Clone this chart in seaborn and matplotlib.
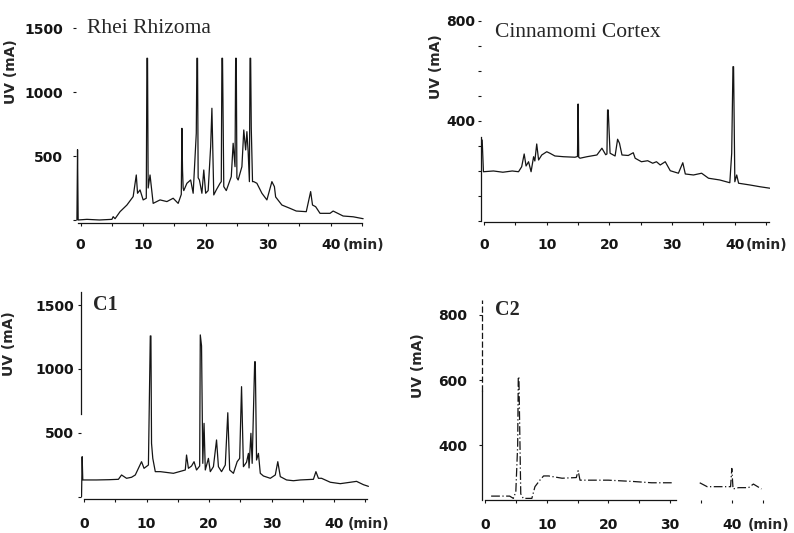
import numpy as np
import pandas as pd
import seaborn as sns
import matplotlib.pyplot as plt

# retention time (min) / UV response (mA)
rhei_min = [
    -0.6, -0.5, -0.4, 1.0, 3.0, 5.0, 5.2, 5.5, 6.3, 7.4,
    8.4, 8.9, 9.1, 9.5, 10.0, 10.5, 10.6, 10.7, 10.8, 11.1,
    11.6, 12.7, 13.8, 14.8, 15.6, 16.1, 16.2, 16.3, 16.4, 16.5,
    17.0, 17.6, 18.0, 18.5, 18.6, 18.7, 18.8, 19.0, 19.4, 19.7,
    20.0, 20.4, 20.8, 21.0, 21.3, 21.7, 22.3, 22.5, 22.6, 22.7,
    22.9, 23.3, 24.1, 24.4, 24.7, 24.8, 24.9, 25.0, 25.2, 25.8,
    26.1, 26.4, 26.6, 26.8, 27.0, 27.1, 27.2, 27.3, 27.5, 27.7,
    28.2, 29.0, 29.8, 30.6, 31.0, 31.2, 32.2, 33.5, 34.5, 36.1,
    36.8, 37.1, 37.6, 38.3, 39.9, 40.4, 42.0, 43.6, 45.2]
rhei_uv = [
    0, 550, 0, 5, 0, 5, 26, 10, 65, 117,
    183, 352, 209, 235, 157, 170, 1265, 1265, 250, 352,
    130, 157, 144, 170, 130, 200, 717, 391, 250, 230,
    287, 313, 209, 678, 1265, 1265, 330, 313, 209, 391,
    209, 230, 574, 874, 196, 235, 287, 300, 1265, 1265,
    261, 230, 339, 600, 417, 1265, 1265, 330, 313, 417,
    704, 548, 691, 535, 300, 1265, 1265, 717, 300, 300,
    287, 209, 157, 300, 261, 180, 117, 91, 70, 65,
    222, 117, 104, 52, 52, 70, 31, 25, 10]

cinn_min = [
    -0.3, -0.1, 1.5, 3.0, 4.5, 5.5, 6.0, 6.4, 6.7, 7.1,
    7.5, 7.9, 8.1, 8.4, 8.7, 9.2, 10.0, 10.5, 11.3, 12.7,
    14.5, 14.9, 15.0, 15.1, 15.3, 16.4, 18.0, 18.8, 19.4, 19.6,
    19.7, 19.8, 20.1, 20.9, 21.3, 21.6, 22.0, 23.0, 23.8, 24.1,
    25.1, 26.1, 26.9, 27.5, 28.1, 28.9, 29.7, 31.0, 31.7, 32.1,
    33.4, 34.7, 35.8, 37.6, 39.2, 39.5, 39.7, 39.8, 40.0, 40.3,
    40.6, 42.4, 44.0, 45.6]
cinn_uv = [
    324, 197, 200, 195, 200, 197, 217, 268, 220, 237,
    197, 257, 240, 308, 244, 264, 277, 271, 260, 257,
    255, 258, 468, 255, 251, 257, 264, 291, 265, 268,
    444, 444, 271, 260, 327, 311, 264, 262, 273, 251,
    237, 241, 231, 237, 224, 237, 201, 191, 233, 188,
    184, 191, 171, 164, 153, 271, 617, 617, 157, 184,
    151, 144, 137, 131]

c1_min = [
    -0.4, -0.3, -0.2, 2.0, 4.0, 5.5, 6.0, 6.8, 7.6, 8.2,
    8.7, 9.2, 9.6, 10.3, 10.6, 10.7, 10.8, 11.0, 11.4, 12.2,
    14.3, 16.2, 16.4, 16.7, 17.2, 17.6, 18.0, 18.5, 18.6, 18.8,
    19.0, 19.2, 19.4, 19.9, 20.2, 20.7, 21.2, 21.5, 22.0, 22.6,
    23.0, 23.3, 23.9, 24.5, 24.9, 25.2, 25.5, 26.0, 26.3, 26.4,
    26.7, 26.9, 27.3, 27.4, 27.6, 27.9, 28.2, 28.7, 29.8, 30.6,
    31.0, 31.4, 32.4, 33.5, 34.6, 36.7, 37.1, 37.5, 38.0, 39.4,
    41.0, 42.6, 43.6, 44.7, 45.5]
c1_uv = [
    0, 313, 131, 131, 133, 136, 170, 144, 152, 170,
    222, 274, 222, 248, 1258, 1258, 417, 300, 196, 196,
    183, 209, 326, 222, 240, 274, 209, 240, 1266, 1180,
    261, 574, 209, 300, 196, 235, 444, 235, 196, 248,
    657, 209, 183, 274, 300, 861, 235, 270, 339, 225,
    496, 261, 1056, 1056, 287, 339, 183, 162, 144, 170,
    274, 157, 131, 125, 131, 136, 196, 144, 144, 113,
    102, 113, 120, 94, 81]

# C2 has a break in the trace between ~30 and ~35 min
c2_min = [
    1.0, 4.0, 4.6, 5.0, 5.3, 5.4, 5.5, 5.8, 6.2, 7.6,
    8.1, 8.9, 9.5, 10.3, 12.5, 14.8, 15.1, 15.4, 18.0, 20.0,
    24.0, 27.0, 30.3,
    34.8, 36.0, 38.1, 39.8, 40.0, 40.2, 41.1, 42.7, 43.5, 44.8]
c2_uv = [
    243, 243, 236, 256, 400, 610, 610, 250, 236, 236,
    272, 292, 305, 305, 298, 300, 321, 292, 292, 292,
    288, 284, 284,
    284, 272, 272, 272, 328, 265, 269, 269, 280, 265]
c2_part = [0] * 23 + [1] * 10

panel_titles = ["Rhei Rhizoma", "Cinnamomi Cortex", "C1", "C2"]
x_ticks = [0, 10, 20, 30, 40]

sns.set_theme(style="ticks")
plt.rcParams["font.family"] = ["DejaVu Sans"]

fig = plt.figure(figsize=(7.94, 5.33), dpi=100)
fig.patch.set_facecolor("white")

ax1 = fig.add_axes([0.0953, 0.582, 0.3652, 0.389])
ax2 = fig.add_axes([0.6057, 0.5826, 0.364, 0.3874])
ax3 = fig.add_axes([0.1019, 0.0638, 0.3629, 0.3927])
ax4 = fig.add_axes([0.6069, 0.0619, 0.3583, 0.3752])

ink = "#151515"
tick_font = dict(fontsize=10, fontweight="bold", family="DejaVu Sans")

sns.lineplot(x=rhei_min, y=rhei_uv, ax=ax1, color=ink, lw=0.9,
             estimator=None, sort=False)
sns.lineplot(x=cinn_min, y=cinn_uv, ax=ax2, color=ink, lw=0.9,
             estimator=None, sort=False)
sns.lineplot(x=c1_min, y=c1_uv, ax=ax3, color=ink, lw=0.9,
             estimator=None, sort=False)
c2 = pd.DataFrame({"min": c2_min, "uv": c2_uv, "part": c2_part})
sns.lineplot(data=c2, x="min", y="uv", units="part", ax=ax4, color=ink,
             lw=0.9, estimator=None, sort=False, linestyle=(0, (7, 2, 1, 2)))

ax1.set_xlim(-0.8, 45.6)
ax1.set_ylim(-22, 1600)
ax2.set_xlim(-0.5, 45.6)
ax2.set_ylim(-6, 820)
ax3.set_xlim(-0.5, 45.6)
ax3.set_ylim(-18, 1620)
ax4.set_xlim(-0.5, 45.6)
ax4.set_ylim(231, 846)

for ax in (ax1, ax2, ax3, ax4):
    sns.despine(ax=ax)
    ax.set_facecolor("white")
    ax.grid(False)
    ax.set_xticks(x_ticks)
    ax.set_xticklabels([str(t) for t in x_ticks], **tick_font)
    ax.set_xticks([5, 15, 25, 35, 45], minor=True)
    for s in ("left", "bottom"):
        ax.spines[s].set_color(ink)
        ax.spines[s].set_linewidth(0.9)
    ax.tick_params(which="both", colors=ink, width=0.8)

# y ticks
ax1.set_yticks([0, 500, 1000, 1500])
ax1.set_yticklabels(["", "500", "1000", "1500"], **tick_font)
ax2.set_yticks(np.arange(0, 801, 100))
ax2.set_yticklabels(["" if v not in (400, 800) else str(v)
                     for v in range(0, 801, 100)], **tick_font)
ax3.set_yticks([0, 500, 1000, 1500])
ax3.set_yticklabels(["", "500", "1000", "1500"], **tick_font)
ax4.set_yticks([400, 600, 800])
ax4.set_yticklabels(["400", "600", "800"], **tick_font)

ax1.tick_params(axis="x", which="both", length=2.5, pad=8.7)
ax2.tick_params(axis="x", which="both", length=2.5, pad=8.7)
ax3.tick_params(axis="x", which="both", length=2.5, pad=10.2)
ax4.tick_params(axis="x", which="both", length=2.5, pad=10.2)
ax1.tick_params(axis="y", length=2.5, pad=6.4)
ax2.tick_params(axis="y", length=2, pad=2.3)
ax3.tick_params(axis="y", length=2.5, pad=2.3)
ax4.tick_params(axis="y", length=2.5, pad=8.3)

# the scanned axis lines are only partly visible
ax1.spines["left"].set_visible(False)
ax1.spines["bottom"].set_bounds(-0.4, 45)
ax2.spines["left"].set_bounds(0, 335)
ax2.spines["bottom"].set_bounds(0, 45.5)
ax3.spines["left"].set_bounds(650, 1600)
ax3.spines["bottom"].set_bounds(0, 45.3)
ax4.spines["left"].set_bounds(231, 565)
ax4.spines["bottom"].set_bounds(0, 31)
ax4.axvline(-0.5, ymin=(565 - 231) / (846 - 231), ymax=1, color=ink,
            lw=0.9, linestyle=(0, (5, 2)), clip_on=False)

# axis titles
for ax, xy, pos, sz in [
    (ax1, (-0.198, 0.729), 45.3, 11.2),
    (ax2, (-0.13, 0.754), 45.1, 11.2),
    (ax3, (-0.226, 0.744), 45.6, 12.7),
    (ax4, (-0.2, 0.67), 45.9, 12.7),
]:
    ax.set_xlabel("")
    ax.set_ylabel("UV (mA)", fontsize=10, fontweight="bold")
    ax.yaxis.set_label_coords(*xy)
    ax.annotate("(min)", xy=(pos, 0), xycoords=("data", "axes fraction"),
                xytext=(0, -sz), textcoords="offset points",
                ha="center", va="top", annotation_clip=False, **tick_font)

# panel names
ax1.text(0.039, 0.914, panel_titles[0], transform=ax1.transAxes,
         family="Liberation Serif", fontsize=15.5, va="baseline")
ax2.text(0.049, 0.897, panel_titles[1], transform=ax2.transAxes,
         family="Liberation Serif", fontsize=15.5, va="baseline")
ax3.text(0.042, 0.903, panel_titles[2], transform=ax3.transAxes,
         family="Liberation Serif", fontsize=14.5, fontweight="bold",
         va="baseline")
ax4.text(0.046, 0.925, panel_titles[3], transform=ax4.transAxes,
         family="Liberation Serif", fontsize=14.5, fontweight="bold",
         va="baseline")

fig.savefig("out.png", dpi=100, facecolor="white")
